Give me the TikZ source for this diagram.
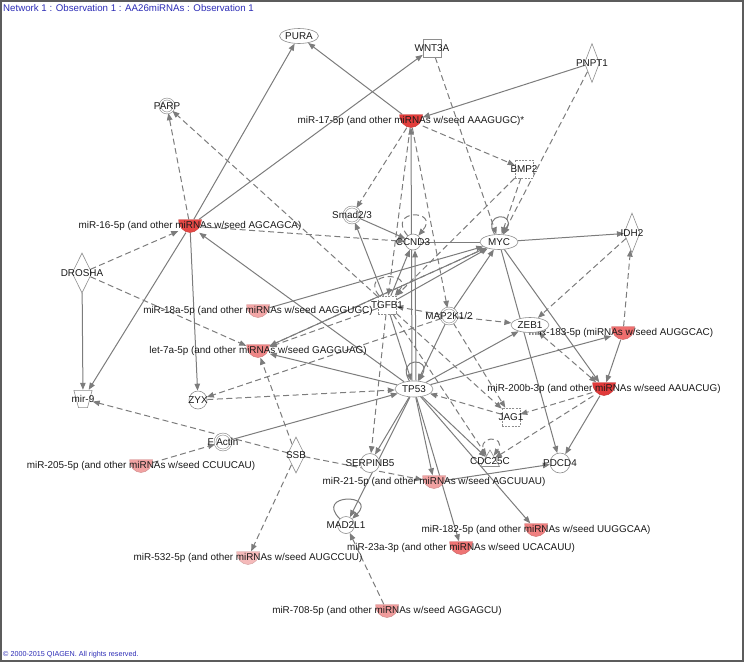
\documentclass[tikz,border=0pt]{standalone}
\usepackage{fontspec}
\setmainfont{Liberation Sans}
\usetikzlibrary{arrows.meta,shapes.geometric}
\definecolor{ink}{HTML}{1A1A1A}
\definecolor{wire}{HTML}{7C7C7C}
\definecolor{rim}{HTML}{8E8E8E}
\definecolor{ipablue}{HTML}{2B2BB5}
\definecolor{frame}{HTML}{5C5C5C}
\definecolor{redA}{HTML}{E33E3C}
\definecolor{redB}{HTML}{E54845}
\definecolor{redC}{HTML}{E13A3A}
\definecolor{redD}{HTML}{EE6E6E}
\definecolor{redE}{HTML}{EF8080}
\definecolor{redF}{HTML}{EE7474}
\definecolor{redG}{HTML}{EF8787}
\definecolor{redH}{HTML}{F09C9C}
\definecolor{redI}{HTML}{F1A2A2}
\definecolor{redJ}{HTML}{F3A6A6}
\definecolor{redK}{HTML}{F5BABA}
\pgfdeclarelayer{wires}
\pgfsetlayers{wires,main}
\tikzset{
  lab/.style={font=\fontsize{9.9}{11}\selectfont, text=ink, inner sep=0pt},
  gene/.style={draw=rim, fill=white, line width=0.6pt, inner sep=0pt},
  oval/.style={gene, ellipse, minimum width=38pt, minimum height=15pt, font=\fontsize{9.9}{11}\selectfont, text=ink},
  ring/.style={gene, circle, minimum size=#1},
  cplx/.style={gene, circle, double=white, double distance=1.2pt, minimum size=#1},
  sq/.style={gene, rectangle, minimum size=18pt},
  gf/.style={sq, dash pattern=on 2pt off 1.2pt},
  enz/.style={gene, diamond, minimum width=16pt, minimum height=40pt},
  tpz/.style={rectangle, inner sep=0pt, minimum width=19pt, minimum height=18pt,
    path picture={\draw[rim, fill=white, line width=0.6pt] (path picture bounding box.north west) ++(0.4pt,-0.4pt) -- ++(18.2pt,0pt) -- ++(-4.6pt,-17.2pt) -- ++(-9pt,0pt) -- cycle;}},
  mirna/.style={rectangle, inner sep=0pt, minimum width=23pt, minimum height=13pt,
    path picture={\fill[#1, draw=#1!85!black, line width=0.4pt] (path picture bounding box.north west) -- (path picture bounding box.north east)
      arc[start angle=0, end angle=-180, x radius=11.5pt, y radius=13pt] -- cycle;}},
  edge/.style={-{Triangle[length=7pt, width=5.5pt]}, draw=wire, line width=1pt},
  dedge/.style={edge, dash pattern=on 6pt off 3.5pt},
  link/.style={draw=wire, line width=1pt},
}
\begin{document}
\begin{tikzpicture}[x=1pt, y=-1pt]
  \useasboundingbox (0,0) rectangle (745,662);
  \draw[frame, line width=1.5pt] (1,1) rectangle (743,661);
  \node[anchor=west, inner sep=0pt, font=\fontsize{9.7}{11}\selectfont, text=ipablue] (title) at (3,8) {Network 1 : Observation 1 : AA26miRNAs : Observation 1};
  \node[anchor=west, inner sep=0pt, font=\fontsize{7.2}{8}\selectfont, text=ipablue] (copy) at (3,655) {© 2000-2015 QIAGEN. All rights reserved.};
  % top row
  \node[oval] (PURA) at (299,36) {PURA};
  \node[sq, label={[lab]center:WNT3A}] (WNT3A) at (432,48) {};
  \node[enz, minimum width=15pt, minimum height=39pt, label={[lab]center:PNPT1}] (PNPT1) at (592,63) {};
  \node[cplx=14pt, label={[lab]center:PARP}] (PARP) at (167,106) {};
  \node[mirna=redA, label={[lab]center:miR-17-5p (and other miRNAs w/seed AAAGUGC)*}] (m17) at (411,121) {};
  \node[gf, label={[lab]center:BMP2}] (BMP2) at (524,169) {};
  % upper middle
  \node[cplx=16pt, label={[lab]center:Smad2/3}] (Smad) at (352,215) {};
  \node[mirna=redB, label={[lab]center:miR-16-5p (and other miRNAs w/seed AGCAGCA)}] (m16) at (190,226) {};
  \node[ring=16pt, label={[lab]center:CCND3}] (CCND3) at (413,242) {};
  \node[oval] (MYC) at (499,242) {MYC};
  \node[enz, label={[lab]center:IDH2}] (IDH2) at (632,233) {};
  \node[enz, minimum width=20pt, label={[lab]center:DROSHA}] (DROSHA) at (82,273) {};
  \node[gf, label={[lab]center:TGFB1}] (TGFB1) at (387,305) {};
  \node[mirna=redJ, label={[lab]center:miR-18a-5p (and other miRNAs w/seed AAGGUGC)}] (m18a) at (258,311) {};
  \node[cplx=16pt, label={[lab]center:MAP2K1/2}] (MAP2K) at (449,316) {};
  \node[mirna=redD, label={[lab, xshift=-2pt]center:miR-183-5p (miRNAs w/seed AUGGCAC)}] (m183) at (623,333) {};
  \node[oval] (ZEB1) at (530,325) {ZEB1};
  \node[mirna=redG, label={[lab]center:let-7a-5p (and other miRNAs w/seed GAGGUAG)}] (let7) at (258,351) {};
  % lower middle
  \node[oval, minimum height=16pt] (TP53) at (414,389) {TP53};
  \node[mirna=redC, label={[lab]center:miR-200b-3p (and other miRNAs w/seed AAUACUG)}] (m200b) at (604,389) {};
  \node[tpz, label={[lab]center:mir-9}] (mir9) at (83,399) {};
  \node[ring=18pt, label={[lab]center:ZYX}] (ZYX) at (198,400) {};
  \node[gf, label={[lab]center:JAG1}] (JAG1) at (511,417) {};
  \node[cplx=16pt, label={[lab]center:F Actin}] (FActin) at (223,442) {};
  \node[enz, minimum width=18pt, minimum height=36pt, label={[lab]center:SSB}] (SSB) at (296,455) {};
  \node[ring=19pt, label={[lab]center:SERPINB5}] (SERPINB5) at (370,463) {};
  \node[gene, regular polygon, regular polygon sides=3, minimum size=22pt, label={[lab]center:CDC25C}] (CDC25C) at (490,461) {};
  \node[ring=20pt, label={[lab]center:PDCD4}] (PDCD4) at (560,463) {};
  \node[mirna=redI, label={[lab]center:miR-205-5p (and other miRNAs w/seed CCUUCAU)}] (m205) at (141,466) {};
  \node[mirna=redI, label={[lab]center:miR-21-5p (and other miRNAs w/seed AGCUUAU)}] (m21) at (434,482) {};
  % bottom
  \node[ring=17pt, label={[lab]center:MAD2L1}] (MAD2L1) at (346,525) {};
  \node[mirna=redE, label={[lab]center:miR-182-5p (and other miRNAs w/seed UUGGCAA)}] (m182) at (536,530) {};
  \node[mirna=redF, label={[lab]center:miR-23a-3p (and other miRNAs w/seed UCACAUU)}] (m23a) at (461,548) {};
  \node[mirna=redK, label={[lab]center:miR-532-5p (and other miRNAs w/seed AUGCCUU)}] (m532) at (248,558) {};
  \node[mirna=redH, label={[lab]center:miR-708-5p (and other miRNAs w/seed AGGAGCU)}] (m708) at (387,611) {};
  \begin{pgfonlayer}{wires}
    % solid
    \draw[edge] (m16) -- (PURA);
    \draw[edge] (m16) -- (WNT3A);
    \draw[edge] (m16) -- (mir9);
    \draw[edge] (m16) -- (ZYX);
    \draw[edge] (TP53) -- (m16);
    \draw[edge] (DROSHA) -- (mir9);
    \draw[edge] (m17) -- (PURA);
    \draw[edge] (PNPT1) -- (m17);
    \draw[edge] ([xshift=-2pt]TP53.north) -- (m17);
    \draw[edge] ([xshift=2pt]TP53.north) -- ([xshift=2pt]CCND3.south);
    \draw[edge] (Smad) -- (CCND3);
    \draw[edge] (TGFB1) -- (Smad);
    \draw[edge] (TGFB1) -- (TP53);
    \draw[edge] (TGFB1) -- (CCND3);
    \draw[link] (CCND3) -- (MYC);
    \draw[edge] (MYC) -- (IDH2);
    \draw[edge] (MYC) -- (m200b);
    \draw[edge] (MYC) -- (PDCD4);
    \draw[edge] (TGFB1) -- (MYC);
    \draw[edge] (MAP2K) -- (MYC);
    \draw[edge] (MAP2K) -- (TP53);
    \draw[edge] (let7) -- (MYC);
    \draw[edge] (m18a) -- (MYC);
    \draw[edge] (TP53) -- (let7);
    \draw[edge] (TP53) -- (ZEB1);
    \draw[edge] (TP53) -- (m183);
    \draw[edge] (m183) -- (m200b);
    \draw[edge] (m200b) -- (PDCD4);
    \draw[edge] (m21) -- (PDCD4);
    \draw[edge] (TP53) -- (SERPINB5);
    \draw[edge] (TP53) -- (MAD2L1);
    \draw[edge] (TP53) -- (m21);
    \draw[edge] (TP53) -- (m23a);
    \draw[edge] (TP53) -- (m182);
    \draw[edge] (TP53) -- (CDC25C);
    \draw[edge] (FActin) -- (TP53);
    \draw[edge] (MYC) to[out=120, in=60, min distance=26pt] (MYC);
    \draw[edge] (TP53) to[out=120, in=60, min distance=28pt] (TP53);
    \draw[edge] (MAD2L1) to[out=135, in=45, min distance=36pt] (MAD2L1);
    % dashed
    \draw[dedge] (m16) -- (PARP);
    \draw[dedge] (TGFB1) -- (PARP);
    \draw[dedge] (DROSHA) -- (m16);
    \draw[dedge] (DROSHA) -- (let7);
    \draw[dedge] (m16) -- (CCND3);
    \draw[dedge] (m17) -- (Smad);
    \draw[dedge] (m17) -- (BMP2);
    \draw[dedge] (m17) -- (TGFB1);
    \draw[dedge] (m17) -- (MAP2K);
    \draw[dedge] (WNT3A) -- (MYC);
    \draw[dedge] (PNPT1) -- (MYC);
    \draw[dedge] (BMP2) -- (MYC);
    \draw[dedge] (BMP2) -- (TGFB1);
    \draw[dedge] (m183) -- (IDH2);
    \draw[dedge] (IDH2) -- (ZEB1);
    \draw[dedge] (MAP2K) -- (ZEB1);
    \draw[dedge, {Triangle[length=7pt, width=5.5pt]}-{Triangle[length=7pt, width=5.5pt]}] (ZEB1) -- (m200b);
    \draw[dedge] (m200b) -- (JAG1);
    \draw[dedge] (m200b) -- (CDC25C);
    \draw[dedge] (JAG1) -- (TP53);
    \draw[dedge] (MAP2K) -- (JAG1);
    \draw[dedge] (TGFB1) -- (JAG1);
    \draw[dedge] (TGFB1) -- (SERPINB5);
    \draw[dedge] (TGFB1) -- (CDC25C);
    \draw[dedge] (MAP2K) -- (TGFB1);
    \draw[dedge] (MAP2K) -- (ZYX);
    \draw[dedge] (ZYX) -- (TP53);
    \draw[dedge] (MYC) -- (let7);
    \draw[dedge] (TGFB1) -- (let7);
    \draw[dedge] (SSB) -- (let7);
    \draw[dedge] (SSB) -- (mir9);
    \draw[dedge] (SSB) -- (m532);
    \draw[dedge] (SSB) -- (m21);
    \draw[dedge] (m205) -- (FActin);
    \draw[dedge] (m708) -- (MAD2L1);
    \draw[dedge] (CCND3) to[out=130, in=50, min distance=35pt] (CCND3);
    \draw[dedge] (TGFB1) to[out=130, in=50, min distance=32pt] (TGFB1);
    \draw[dedge] (CDC25C) to[out=125, in=55, min distance=26pt] (CDC25C);
  \end{pgfonlayer}
\end{tikzpicture}
\end{document}
